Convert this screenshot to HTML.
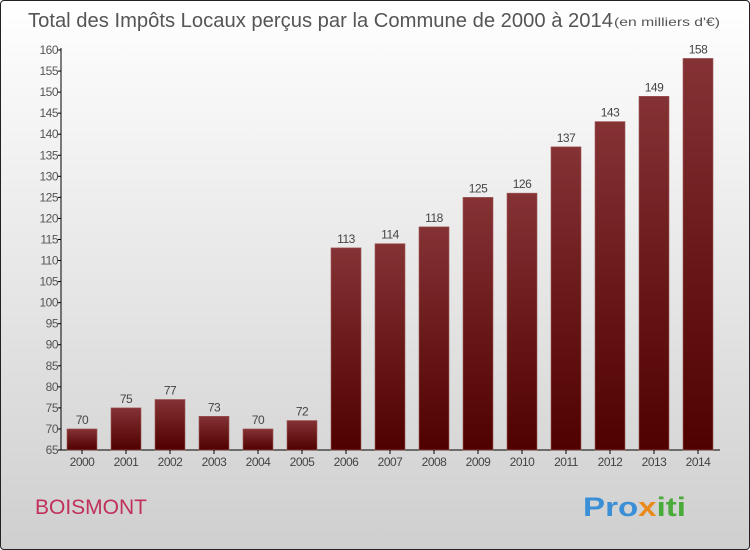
<!DOCTYPE html>
<html><head><meta charset="utf-8"><style>
html,body{margin:0;padding:0}
body{width:750px;height:550px;overflow:hidden;font-family:"Liberation Sans",sans-serif}
#wrap{position:absolute;left:0;top:0;width:748px;height:548px;border:1px solid #222;border-radius:4px;background:linear-gradient(#ffffff,#cfcfcf)}
</style></head><body>
<div id="wrap">
<svg id="svg" width="750" height="550" style="position:absolute;left:-1px;top:-1px">
<defs><linearGradient id="bg" x1="0" y1="0" x2="0" y2="1"><stop offset="0" stop-color="#853235"/><stop offset="1" stop-color="#4f0000"/></linearGradient></defs>
<text x="28" y="27" font-size="20" fill="#555" textLength="585" lengthAdjust="spacingAndGlyphs">Total des Impôts Locaux perçus par la Commune de 2000 à 2014</text>
<text x="614" y="26" font-size="12" fill="#555" textLength="106" lengthAdjust="spacingAndGlyphs">(en milliers d'€)</text>
<text x="35" y="514" font-size="21" fill="#c0305a">BOISMONT</text>
<text x="583" y="516" font-size="27" font-weight="bold" textLength="103" lengthAdjust="spacingAndGlyphs"><tspan fill="#3a8fd6">Pro</tspan><tspan fill="#e98a1c">x</tspan><tspan fill="#4aaa3a">iti</tspan></text>
<g id="g"></g>
</svg></div>
<script>
const years=["2000","2001","2002","2003","2004","2005","2006","2007","2008","2009","2010","2011","2012","2013","2014"];
const values=[70,75,77,73,70,72,113,114,118,125,126,137,143,149,158];
const yTicks=[65,70,75,80,85,90,95,100,105,110,115,120,125,130,135,140,145,150,155,160];
const ns="http://www.w3.org/2000/svg",g=document.getElementById('g');
const y=v=>450-(v-65)*400/95, x=i=>67+i*44;
function mk(t,a,txt){const e=document.createElementNS(ns,t);for(const k in a)e.setAttribute(k,a[k]);if(txt!==undefined)e.textContent=txt;g.appendChild(e);return e;}
let e=mk('line',{x1:61,y1:48,x2:61,y2:450,stroke:'#000'});

e=mk('line',{x1:61,y1:450,x2:720,y2:450,stroke:'#000'});

yTicks.forEach(v=>{let t=mk('line',{x1:58,y1:y(v),x2:61,y2:y(v),stroke:'#000'});

t=mk('text',{x:58,y:y(v)+4,'font-size':12,fill:'#555','text-anchor':'end','letter-spacing':'-0.5'},v);
});
years.forEach((yr,i)=>{const v=values[i];
let b=mk('rect',{x:x(i),y:y(v),width:30,height:450-y(v),fill:'url(#bg)',stroke:'#a05a5a','stroke-width':0.6});

let t=mk('line',{x1:x(i)+15,y1:450,x2:x(i)+15,y2:454,stroke:'#000'});

t=mk('text',{x:x(i)+15,y:466,'font-size':12,fill:'#444','text-anchor':'middle','letter-spacing':'-0.5'},yr);

t=mk('text',{x:x(i)+15,y:y(v)-5,'font-size':12,fill:'#444','text-anchor':'middle','letter-spacing':'-0.5'},v);
});
</script>
</body></html>
